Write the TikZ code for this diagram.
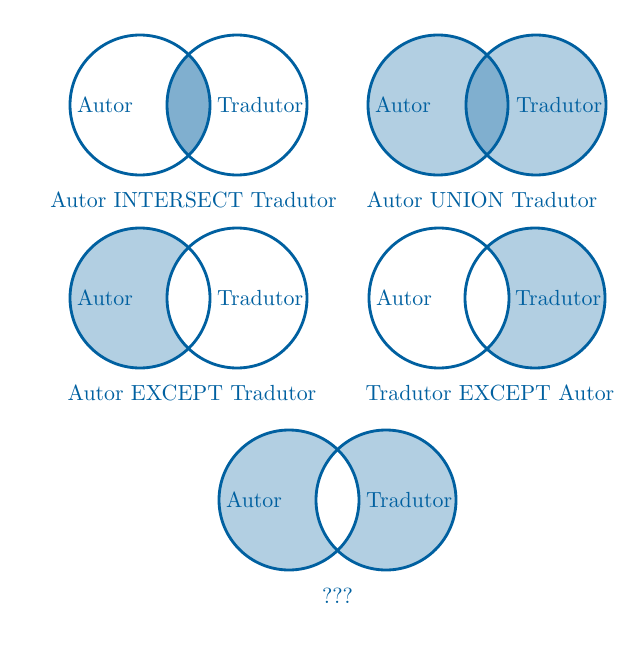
\documentclass[tikz,border=0pt]{standalone}
\usetikzlibrary{calc}
\definecolor{vblue}{RGB}{0,96,160}
\tikzset{
  ring/.style={draw=vblue, line width=1.3pt},
  light/.style={fill=vblue!30},
  dark/.style={fill=vblue!50},
  lbl/.style={text=vblue, inner sep=3pt},
  captext/.style={text=vblue, inner sep=1pt}
}
\begin{document}
\begin{tikzpicture}[x=0.457pt, y=-0.457pt]
\useasboundingbox (0,0) rectangle (617,650);
% centres
\coordinate (a1) at (140,105); \coordinate (b1) at (237,105);
\coordinate (a2) at (438,105); \coordinate (b2) at (536,105);
\coordinate (a3) at (140,298); \coordinate (b3) at (237,298);
\coordinate (a4) at (439,298); \coordinate (b4) at (535,298);
\coordinate (a5) at (289,500); \coordinate (b5) at (386,500);
\def\R{70}
% ---- panel 1: intersect
\begin{scope}
  \clip (a1) circle (\R);
  \fill[dark] (b1) circle (\R);
\end{scope}
\draw[ring] (a1) circle (\R);
\draw[ring] (b1) circle (\R);
% ---- panel 2: union
\fill[light] (a2) circle (\R);
\fill[light] (b2) circle (\R);
\begin{scope}
  \clip (a2) circle (\R);
  \fill[dark] (b2) circle (\R);
\end{scope}
\draw[ring] (a2) circle (\R);
\draw[ring] (b2) circle (\R);
% ---- panel 3: A except B
\begin{scope}
  \clip (a3) circle (\R);
  \fill[light, even odd rule] (a3) circle (\R) (b3) circle (\R);
\end{scope}
\draw[ring] (a3) circle (\R);
\draw[ring] (b3) circle (\R);
% ---- panel 4: B except A
\begin{scope}
  \clip (b4) circle (\R);
  \fill[light, even odd rule] (a4) circle (\R) (b4) circle (\R);
\end{scope}
\draw[ring] (a4) circle (\R);
\draw[ring] (b4) circle (\R);
% ---- panel 5: symmetric difference
\fill[light, even odd rule] (a5) circle (\R) (b5) circle (\R);
\draw[ring] (a5) circle (\R);
\draw[ring] (b5) circle (\R);
% labels
\foreach \i in {1,...,5}{
  \node[lbl, anchor=west] (la\i) at ($(a\i)+(-\R,0)$) {Autor};
  \node[lbl, inner xsep=1.6pt, anchor=east] (lb\i) at ($(b\i)+(\R,0)$) {Tradutor};
}
% captions
\node[captext] (c1) at (193.5,200) {Autor INTERSECT Tradutor};
\node[captext] (c2) at (482,200) {Autor UNION Tradutor};
\node[captext] (c3) at (192,393) {Autor EXCEPT Tradutor};
\node[captext] (c4) at (490,393) {Tradutor EXCEPT Autor};
\node[captext] (c5) at (337.5,596) {???};
\end{tikzpicture}
\end{document}
